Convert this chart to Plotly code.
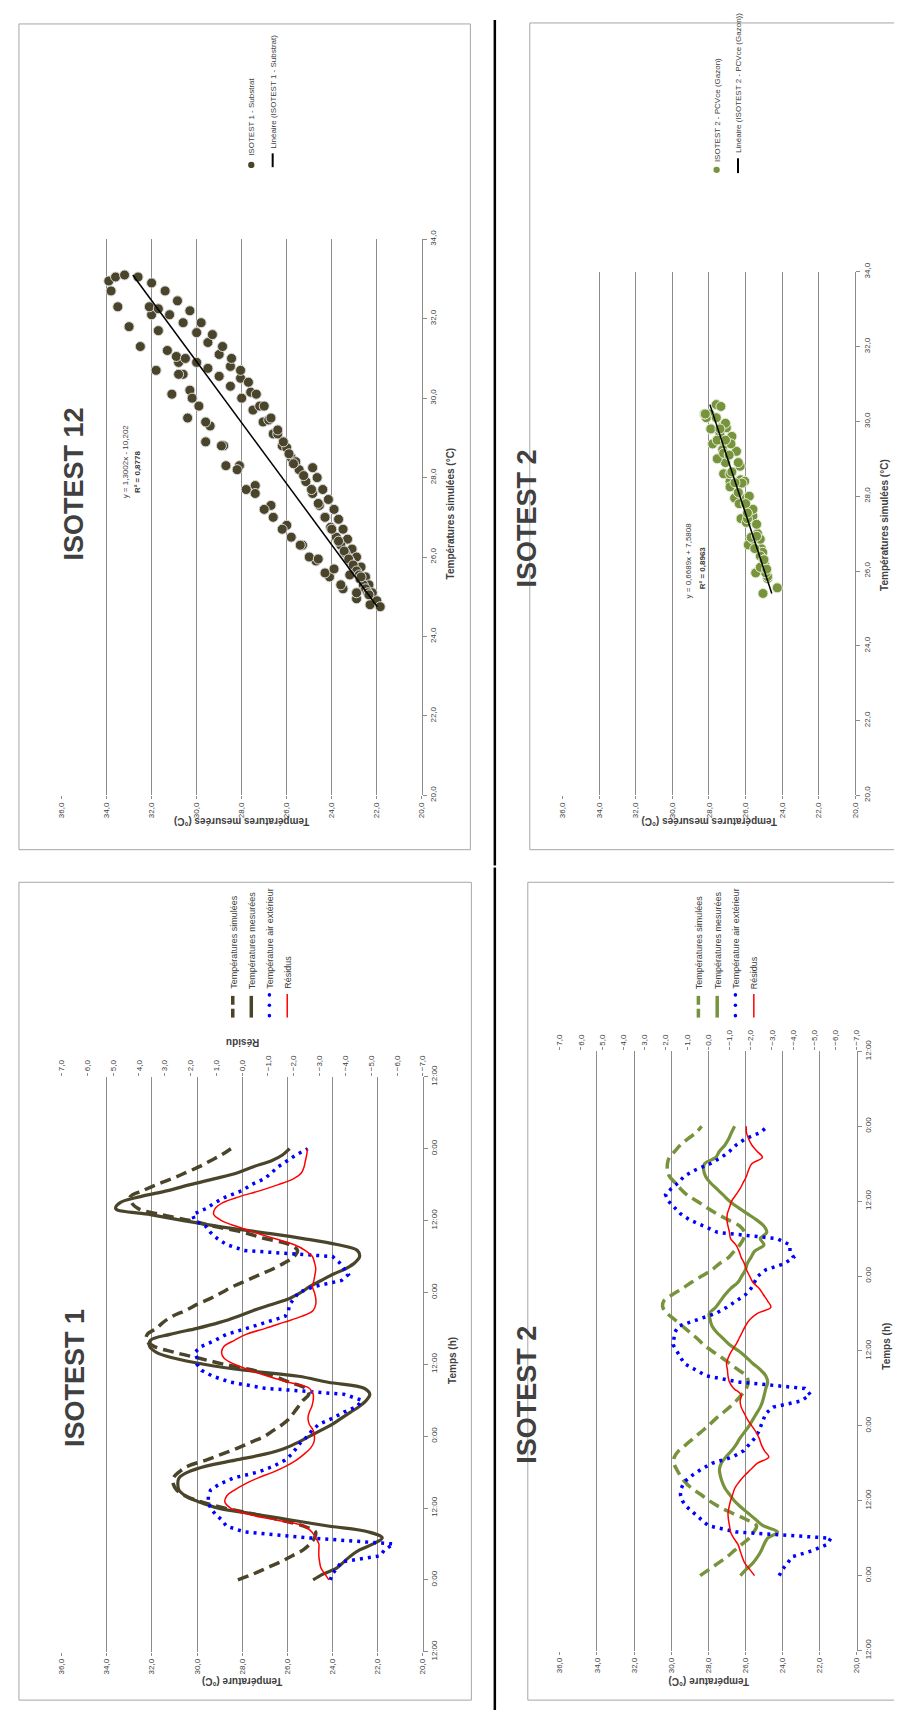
import plotly.graph_objects as go

W, H = 902, 1711

# ---- time series (hourly, 0 h = first midnight) ----
HOURS = list(range(73))

ISO1_SIM = [28.19, 27.5, 26.9, 26.3, 25.8, 25.3, 25.0, 24.8, 24.75, 25.3,
            26.3, 27.5, 28.8, 29.8, 30.5, 30.9, 31.05, 31.05, 30.8, 30.4,
            29.6, 28.9, 28.2, 27.6, 27.0, 26.6, 26.2, 25.9, 25.7, 25.5,
            25.3, 25.05, 25.2, 25.9, 26.6, 27.5, 28.8, 29.9, 31.0, 31.9,
            32.25, 32.2, 31.8, 31.5, 31.1, 30.5, 30.0, 29.4, 28.9, 28.4,
            27.8, 27.2, 26.6, 26.1, 25.7, 25.55, 25.9, 27.0, 27.9, 29.2,
            30.3, 31.6, 32.6, 32.9, 32.95, 32.4, 31.8, 31.1, 30.5, 29.9,
            29.4, 28.9, 28.5]
ISO1_MEAS = [24.86, 24.4, 23.8, 23.5, 23.2, 22.8, 22.2, 21.8, 22.4, 24.2,
             25.85, 27.5, 29.1, 29.9, 30.5, 30.8, 30.85, 30.8, 30.4, 29.6,
             28.3, 27.0, 26.1, 25.5, 25.0, 24.5, 24.0, 23.6, 23.2, 22.8,
             22.5, 22.35, 22.6, 24.2, 25.5, 27.9, 29.7, 31.0, 31.8, 32.1,
             32.06, 31.2, 30.0, 29.0, 28.2, 27.5, 26.7, 25.9, 25.4, 25.0,
             24.5, 24.0, 23.4, 23.0, 22.8, 22.9, 23.8, 25.3, 27.1, 29.0,
             30.6, 32.06, 33.6, 33.4, 32.5, 31.3, 30.3, 29.2, 28.2, 27.5,
             26.7, 26.2, 25.9]
ISO1_AIR = [24.1, 24.0, 23.8, 23.6, 21.9, 21.7, 21.3, 25.0, 27.9, 28.7,
            28.9, 29.2, 29.4, 29.5, 29.5, 29.4, 29.0, 28.4, 27.3, 26.6,
            26.1, 25.8, 25.6, 25.4, 25.1, 24.9, 24.6, 24.0, 23.5, 22.9,
            22.7, 23.5, 27.0, 28.5, 29.3, 29.8, 30.0, 30.0, 30.1, 29.8,
            29.2, 28.7, 27.8, 26.9, 26.1, 25.95, 25.9, 25.7, 25.5, 24.8,
            23.6, 23.3, 23.5, 23.7, 24.0, 27.9, 28.7, 29.1, 29.4, 29.6,
            30.1, 30.2, 29.6, 29.2, 28.7, 28.0, 27.6, 27.0, 26.7, 26.4,
            26.0, 25.6, 25.1]
ISO1_RES = [-3.36, -3.2, -3.05, -3.0, -2.97, -2.97, -2.97, -2.85, -2.7, -2.4,
            -1.3, -0.2, 0.45, 0.67, 0.6, 0.3, -0.1, -0.6, -1.2, -1.7,
            -2.1, -2.4, -2.65, -2.78, -2.8, -2.75, -2.6, -2.55, -2.6, -2.7,
            -2.75, -2.75, -2.6, -1.8, -1.0, -0.3, 0.3, 0.7, 0.8, 0.7,
            0.3, -0.15, -0.9, -1.6, -2.3, -2.75, -2.85, -2.85, -2.8, -2.72,
            -2.78, -2.82, -2.85, -2.8, -2.72, -2.45, -2.0, -1.25, -0.5, 0.2,
            0.8, 1.1, 1.05, 0.75, 0.1, -0.7, -1.4, -2.0, -2.3, -2.4,
            -2.45, -2.5, -2.53]

ISO2_SIM = [28.44, 27.95, 27.47, 27.0, 26.6, 26.2, 25.8, 25.55, 25.4, 25.95,
            26.7, 27.4, 27.95, 28.4, 28.9, 29.25, 29.5, 29.7, 29.85, 29.83,
            29.6, 29.2, 28.8, 28.4, 28.0, 27.65, 27.25, 26.85, 26.5, 26.2,
            25.95, 25.85, 25.95, 26.4, 26.85, 27.3, 27.8, 28.25, 28.6, 29.0,
            29.4, 29.8, 30.2, 30.45, 30.4, 29.95, 29.4, 28.9, 28.35, 27.8,
            27.4, 26.9, 26.6, 26.3, 26.1, 26.05, 26.3, 26.93, 27.55, 28.1,
            28.6, 29.15, 29.5, 29.8, 30.1, 30.2, 30.2, 30.1, 29.8, 29.5,
            29.1, 28.65, 28.36]
ISO2_MEAS = [26.27, 25.96, 25.6, 25.35, 25.15, 25.0, 24.8, 24.27, 25.05, 25.45,
             25.85, 26.25, 26.6, 26.85, 27.1, 27.25, 27.35, 27.4, 27.3, 27.05,
             26.75, 26.5, 26.3, 26.05, 25.8, 25.6, 25.4, 25.2, 25.07, 24.98,
             24.9, 24.8, 24.9, 25.2, 25.6, 25.96, 26.35, 26.85, 27.2, 27.55,
             27.8, 27.9, 27.95, 27.6, 27.35, 27.1, 26.8, 26.4, 26.2, 26.0,
             25.9, 25.7, 25.5, 25.0, 25.2, 24.85, 25.0, 25.4, 25.9, 26.4,
             26.85, 27.2, 27.55, 27.9, 28.15, 28.25, 28.2, 27.6, 27.4, 27.1,
             26.9, 26.75, 26.58]
ISO2_AIR = [24.18, 24.0, 23.73, 23.5, 22.4, 21.6, 21.4, 26.5, 28.0, 28.4,
            28.8, 29.15, 29.4, 29.5, 29.45, 29.3, 28.9, 28.4, 27.8, 26.7,
            26.1, 25.8, 25.5, 25.3, 25.15, 25.05, 24.9, 24.5, 23.0, 22.5,
            22.8, 26.3, 28.1, 28.7, 29.3, 29.5, 29.7, 29.9, 29.85, 29.8,
            29.6, 28.6, 27.6, 27.0, 26.5, 26.0, 25.7, 25.5, 25.33, 24.9,
            23.9, 23.4, 23.6, 23.6, 24.3, 27.5, 28.2, 29.0, 29.5, 29.8,
            30.15, 30.3, 30.0, 29.6, 29.3, 28.7, 27.9, 27.3, 26.85, 26.5,
            26.0, 25.2, 24.8]
ISO2_RES = [-2.18, -1.95, -1.72, -1.6, -1.5, -1.4, -1.2, -1.05, -1.0, -0.95,
            -0.93, -0.98, -1.05, -1.15, -1.25, -1.45, -1.7, -2.0, -2.3, -2.85,
            -2.65, -2.5, -2.4, -2.25, -2.05, -1.85, -1.7, -1.55, -1.5, -1.55,
            -1.2, -1.0, -0.93, -0.9, -0.86, -0.95, -1.1, -1.3, -1.45, -1.6,
            -1.75, -1.95, -2.3, -2.95, -2.8, -2.6, -2.4, -2.1, -1.95, -1.8,
            -1.7, -1.55, -1.45, -1.3, -1.05, -1.0, -0.93, -0.88, -0.9, -1.0,
            -1.1, -1.3, -1.5, -1.65, -1.8, -1.9, -2.05, -2.55, -2.3, -2.05,
            -1.9, -1.8, -1.79]

# ---- ISOTEST 12 scatter, points read along the loop (simulated, measured) ----
SCAT1_SIM = [28.25, 28.0, 27.7, 27.45, 27.2, 26.95, 26.7, 26.45, 26.2, 26.0, 25.75, 25.5, 25.3, 25.1, 24.9, 24.75,
             24.8, 24.95, 25.2, 25.5, 25.9, 26.3, 26.8, 27.3, 27.8, 28.3, 28.8, 29.3, 29.8, 30.2, 30.6, 30.9, 31.05,
             31.0, 30.9, 30.75, 30.55, 30.3, 30.0, 29.7, 29.4, 29.1, 28.8, 28.5, 28.2, 27.9, 27.6, 27.3, 27.0,
             26.75, 26.5, 26.3, 26.1, 25.9, 25.75, 25.6, 25.45, 25.3, 25.2, 25.1, 25.05,
             25.1, 25.3, 25.6, 26.0, 26.5, 27.0, 27.6, 28.2, 28.8, 29.4, 30.0, 30.6, 31.2, 31.7, 32.1, 32.3,
             32.25, 32.1, 31.9, 31.65, 31.4, 31.1, 30.8, 30.5, 30.15, 29.8, 29.45, 29.1, 28.75, 28.4, 28.05, 27.7,
             27.35, 27.0, 26.7, 26.4, 26.15, 25.95, 25.8, 25.65, 25.55, 25.5,
             25.55, 25.7, 25.95, 26.3, 26.7, 27.2, 27.7, 28.3, 28.9, 29.5, 30.1, 30.7, 31.3, 31.8, 32.3, 32.7, 32.95,
             33.05, 33.1, 33.05, 32.9, 32.7, 32.45, 32.2, 31.9, 31.6, 31.3, 31.0, 30.7, 30.4, 30.1, 29.8, 29.5,
             29.2, 28.9, 28.6, 28.35]
SCAT1_MEAS = [24.85, 24.65, 24.4, 24.15, 23.9, 23.7, 23.5, 23.3, 23.1, 22.9, 22.7, 22.5, 22.35, 22.2, 22.0, 21.85,
              22.3, 22.9, 23.5, 24.1, 24.7, 25.3, 26.0, 26.7, 27.4, 28.1, 28.8, 29.4, 29.9, 30.3, 30.6, 30.8, 30.9,
              30.5, 30.0, 29.5, 29.0, 28.5, 28.0, 27.5, 27.05, 26.6, 26.2, 25.8, 25.45, 25.15, 24.85, 24.55, 24.3,
              24.05, 23.8, 23.6, 23.4, 23.2, 23.05, 22.9, 22.75, 22.6, 22.5, 22.4, 22.35,
              22.9, 23.6, 24.3, 25.0, 25.8, 26.6, 27.4, 28.2, 28.9, 29.6, 30.2, 30.8, 31.3, 31.7, 32.0, 32.1,
              31.7, 31.2, 30.6, 30.0, 29.5, 29.0, 28.5, 28.05, 27.6, 27.2, 26.8, 26.4, 26.0, 25.6, 25.25, 24.9,
              24.6, 24.3, 24.0, 23.7, 23.45, 23.25, 23.05, 22.9, 22.78, 22.7,
              23.2, 23.9, 24.6, 25.4, 26.2, 27.0, 27.8, 28.7, 29.6, 30.4, 31.1, 31.8, 32.5, 33.0, 33.5, 33.8, 33.9,
              33.6, 33.2, 32.6, 32.0, 31.4, 30.85, 30.3, 29.8, 29.3, 28.85, 28.45, 28.05, 27.7, 27.35, 27.0, 26.7,
              26.4, 26.15, 25.9, 25.7]

# regression lines printed on the scatter charts
FIT1 = (1.3002, -10.202)
FIT2 = (0.6689, 7.5808)

TIME_TICKS = list(range(-12, 85, 12))
TIME_LABELS = ["12:00" if t % 24 else "0:00" for t in TIME_TICKS]

NARROW = "Liberation Sans Narrow, Arial Narrow, Liberation Sans, sans-serif"
GRID = "#8C8C8C"
TXT = "#404040"
OLIVE = "#4A452A"
GREEN = "#77933C"
BLUE = "#0000FF"
RED = "#FF0000"


def fx(x):
    return x / W


def fy(y):
    return 1 - y / H


fig = go.Figure()
shapes, notes = [], []


def note(text, x, y, size, bold=False, angle=-90, xa="center", ya="middle", color=TXT, font=NARROW):
    if bold:
        text = "<b>" + text + "</b>"
    notes.append(dict(text=text, x=fx(x), y=fy(y), xref="paper", yref="paper", showarrow=False,
                      textangle=angle, xanchor=xa, yanchor=ya,
                      font=dict(family=font, size=size, color=color)))


def seg(x0, y0, x1, y1, color, width, dash=None):
    shapes.append(dict(type="line", xref="paper", yref="paper", x0=fx(x0), y0=fy(y0), x1=fx(x1), y1=fy(y1),
                       line=dict(color=color, width=width, dash=dash)))


def dot(x, y, r, color):
    shapes.append(dict(type="circle", xref="paper", yref="paper", x0=fx(x - r), x1=fx(x + r),
                       y0=fy(y + r), y1=fy(y - r), fillcolor=color, line=dict(width=0)))


def box(x0, y0, x1, y1):
    shapes.append(dict(type="rect", xref="paper", yref="paper", x0=fx(x0), y0=fy(y1), x1=fx(x1), y1=fy(y0),
                       line=dict(color="#A6A6A6", width=1), fillcolor="rgba(0,0,0,0)", layer="below"))


tickfont = dict(family=NARROW, size=8, color=TXT)


def temp_axis(x0, x1, anchor):
    return dict(domain=[fx(x0), fx(x1)], range=[36, 20], dtick=2, tick0=20, tickformat=".1f",
                tickangle=-90, showgrid=True, gridcolor=GRID, gridwidth=1, zeroline=False,
                showline=False, ticks="outside", ticklen=3, tickcolor=GRID, tickfont=tickfont,
                anchor=anchor, fixedrange=True)


# ---------------- time series panels ----------------
def time_panel(n, x0, x1, y0, y1, sim, meas, air, res, color):
    xa, ya, xr = "x%d" % n, "y%d" % n, "x%d" % (n + 1)
    fig.add_trace(go.Scatter(x=sim, y=HOURS, xaxis=xa, yaxis=ya, mode="lines", line_shape="spline",
                             line=dict(color=color, width=3.5, dash="11px,6px"), showlegend=False))
    fig.add_trace(go.Scatter(x=meas, y=HOURS, xaxis=xa, yaxis=ya, mode="lines", line_shape="spline",
                             line=dict(color=color, width=3.2), showlegend=False))
    fig.add_trace(go.Scatter(x=air, y=HOURS, xaxis=xa, yaxis=ya, mode="lines",
                             line=dict(color=BLUE, width=3.5, dash="3px,5px"), showlegend=False))
    fig.add_trace(go.Scatter(x=res, y=HOURS, xaxis=xr, yaxis=ya, mode="lines", line_shape="spline",
                             line=dict(color=RED, width=1.5), showlegend=False))
    fig.layout["xaxis%d" % n] = temp_axis(x0, x1, ya)
    fig.layout["yaxis%d" % n] = dict(domain=[fy(y0), fy(y1)], range=[-12, 84], tickvals=TIME_TICKS,
                                     ticktext=TIME_LABELS, tickangle=-90, side="right", anchor=xa,
                                     showgrid=False, zeroline=False, showline=True, linecolor=GRID,
                                     ticks="outside", ticklen=4, tickcolor=GRID, tickfont=tickfont,
                                     fixedrange=True)
    fig.layout["xaxis%d" % (n + 1)] = dict(overlaying=xa, anchor=ya, side="top", range=[7, -7], dtick=1,
                                           tickformat=".1f", tickangle=-90, showgrid=False, zeroline=False,
                                           ticks="outside", ticklen=3, tickcolor=GRID, tickfont=tickfont,
                                           fixedrange=True)


time_panel(3, 50, 415, 1652, 1070, ISO1_SIM, ISO1_MEAS, ISO1_AIR, ISO1_RES, OLIVE)
time_panel(5, 553.3, 853.3, 1650.8, 1044.2, ISO2_SIM, ISO2_MEAS, ISO2_AIR, ISO2_RES, GREEN)


def ts_legend(xs, color, ytop=983):
    labels = ["Températures simulées", "Températures mesurées", "Température air extérieur", "Résidus"]
    x = xs[0]
    seg(x, 988, x, 997, color, 3.5)
    seg(x, 1001, x, 1010, color, 3.5)
    seg(xs[1], 988, xs[1], 1010, color, 3.5)
    for yy in (987, 997.5, 1008):
        dot(xs[2], yy, 1.8, BLUE)
    seg(xs[3], 986, xs[3], 1010, RED, 1.5)
    for xx, lab in zip(xs, labels):
        note(lab, xx + 1, ytop, 9, ya="bottom", font="Liberation Sans, sans-serif")


ts_legend([223, 241.7, 260, 278], OLIVE)
ts_legend([693.3, 712.3, 730.7, 749.3], GREEN)

note("ISOTEST 1", 63.5, 1375, 27, bold=True)
note("ISOTEST 2", 520, 1392, 27, bold=True)
note("Temps (h)", 445, 1357, 10, bold=True)
note("Temps (h)", 883, 1343, 10, bold=True)
note("Température (°C)", 232.5, 1682, 10, bold=True, angle=180)
note("Température (°C)", 703, 1682, 10, bold=True, angle=180)
note("Résidu", 233, 1035, 10, bold=True, angle=180)


# ---------------- scatter panels ----------------
def scatter_panel(n, x0, x1, y0, y1, sim, meas, fit, color, edge):
    xa, ya = ("x", "y") if n == 1 else ("x%d" % n, "y%d" % n)
    fig.add_trace(go.Scatter(x=meas, y=sim, xaxis=xa, yaxis=ya, mode="markers",
                             marker=dict(size=10, color=color, line=dict(color=edge, width=1)),
                             showlegend=False))
    lo, hi = min(sim), max(sim)
    fig.add_trace(go.Scatter(x=[fit[0] * lo + fit[1], fit[0] * hi + fit[1]], y=[lo, hi], xaxis=xa, yaxis=ya,
                             mode="lines", line=dict(color="black", width=1.5), showlegend=False))
    key = "" if n == 1 else str(n)
    fig.layout["xaxis" + key] = temp_axis(x0, x1, ya)
    fig.layout["yaxis" + key] = dict(domain=[fy(y0), fy(y1)], range=[20, 34], dtick=2, tickformat=".1f",
                                     tickangle=-90, side="right", anchor=xa, showgrid=False, zeroline=False,
                                     showline=True, linecolor=GRID, ticks="outside", ticklen=4,
                                     tickcolor=GRID, tickfont=tickfont, fixedrange=True)


scatter_panel(1, 50, 414, 785, 222, SCAT1_SIM, SCAT1_MEAS, FIT1, OLIVE, "#D9D9D9")
scatter_panel(2, 556, 852, 785, 255, ISO2_SIM, ISO2_MEAS, FIT2, GREEN, "#E6EED9")

note("ISOTEST 12", 63, 470, 27, bold=True)
note("ISOTEST 2", 520, 505, 27, bold=True)
note("y = 1,3002x - 10,202", 115, 447, 8)
note("R² = 0,8778", 127, 457, 8, bold=True)
note("y = 0,6689x + 7,5808", 683, 547, 8)
note("R² = 0,8963", 697, 555, 8, bold=True)
note("Températures simulées (°C)", 443, 500, 10, bold=True)
note("Températures simulées (°C)", 882, 511, 10, bold=True)
note("Températures mesurées (°C)", 232, 812, 10, bold=True, angle=180)
note("Températures mesurées (°C)", 704, 812, 10, bold=True, angle=180)

dot(241.7, 146.7, 3.2, OLIVE)
note("ISOTEST 1 - Substrat", 242, 140, 8, ya="bottom")
seg(263.3, 135, 263.3, 149, "black", 2)
note("Linéaire (ISOTEST 1 - Substrat)", 264, 132, 8, ya="bottom")
dot(711.7, 151.7, 3.2, GREEN)
note("ISOTEST 2 - PCVce (Gazon)", 712, 146, 8, ya="bottom")
seg(733.3, 140, 733.3, 155, "black", 2)
note("Linéaire (ISOTEST 2 - PCVce (Gazon))", 734, 137, 8, ya="bottom")

# panel frames and page divider
box(7, 4, 463, 840)
box(523, 3, 905, 840)
box(7, 873, 464, 1701)
box(521, 873, 905, 1701)
seg(487.7, 0, 487.7, 856, "black", 2.5)
seg(487.7, 858, 487.7, 1711, "black", 2.5)

fig.update_layout(width=W, height=H, margin=dict(l=0, r=0, t=0, b=0), paper_bgcolor="white",
                  plot_bgcolor="rgba(0,0,0,0)", separators=", ", showlegend=False,
                  shapes=shapes, annotations=notes)

fig.write_html("out.html")
